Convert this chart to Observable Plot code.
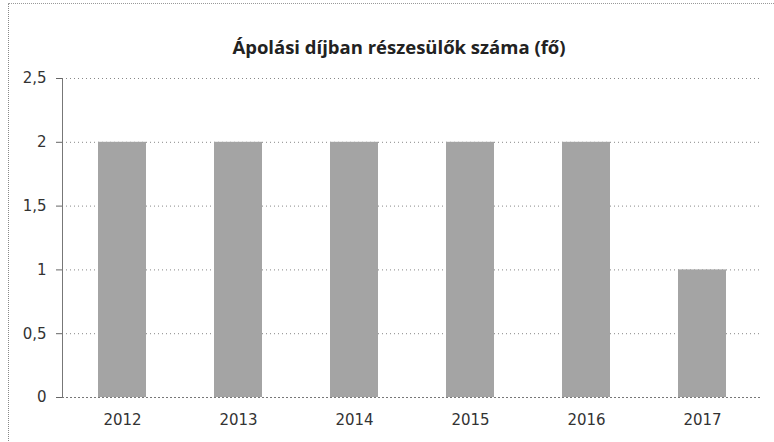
<!DOCTYPE html>
<html>
<head>
<meta charset="utf-8">
<script src="https://cdn.jsdelivr.net/npm/d3@7"></script>
<script src="https://cdn.jsdelivr.net/npm/@observablehq/plot@0.6"></script>
<style>
  html, body { margin: 0; padding: 0; background: #fff; }
  #wrap { position: relative; width: 774px; height: 442px; overflow: hidden; }
  #frame { position: absolute; left: 8px; top: 3px; width: 780px; height: 460px;
           border-left: 1px dotted #888; border-top: 1px dotted #999; box-sizing: border-box; }
  #title { position: absolute; top: 34px; left: 24px; width: 750px; text-align: center;
           font-family: "Open Sans", "DejaVu Sans", sans-serif; font-weight: bold; font-size: 18.5px; color: #222; }
  #chart { position: absolute; left: 0; top: 60px; }
</style>
</head>
<body>
<div id="wrap">
  <div id="frame"></div>
  <div id="title">Ápolási díjban részesülők száma (fő)</div>
  <div id="chart"></div>
</div>
<script>
const years = ["2012", "2013", "2014", "2015", "2016", "2017"];
const counts = [2, 2, 2, 2, 2, 1];
const yTicks = [0, 0.5, 1, 1.5, 2, 2.5];

const data = years.map((y, i) => ({year: y, value: counts[i]}));
const fmt = d => String(d).replace(".", ",");

const chart = Plot.plot({
  width: 774,
  height: 382,
  marginLeft: 62,
  marginRight: 12,
  marginTop: 18,
  marginBottom: 45,
  style: {fontFamily: "'DejaVu Sans', sans-serif", fontSize: "15px", color: "#333", background: "transparent"},
  x: {domain: years, paddingInner: 0.59, paddingOuter: 0.295, label: null},
  y: {domain: [0, 2.5], label: null},
  marks: [
    Plot.gridY(yTicks, {stroke: "#555", strokeOpacity: 0.7, strokeDasharray: "1,3"}),
    Plot.barY(data, {x: "year", y: "value", fill: "#a4a4a4"}),
    Plot.frame({anchor: "left", stroke: "#777"}),
    Plot.axisY(yTicks, {tickFormat: fmt, tickSize: 6, tickPadding: 10, stroke: "#666", fill: "#333", fontSize: 15}),
    Plot.ruleY([0], {stroke: "#777", strokeDasharray: "2,2"}),
    Plot.axisX({tickSize: 0, tickPadding: 17, fill: "#333", fontSize: 15})
  ]
});
document.getElementById("chart").appendChild(chart);
</script>
</body>
</html>
